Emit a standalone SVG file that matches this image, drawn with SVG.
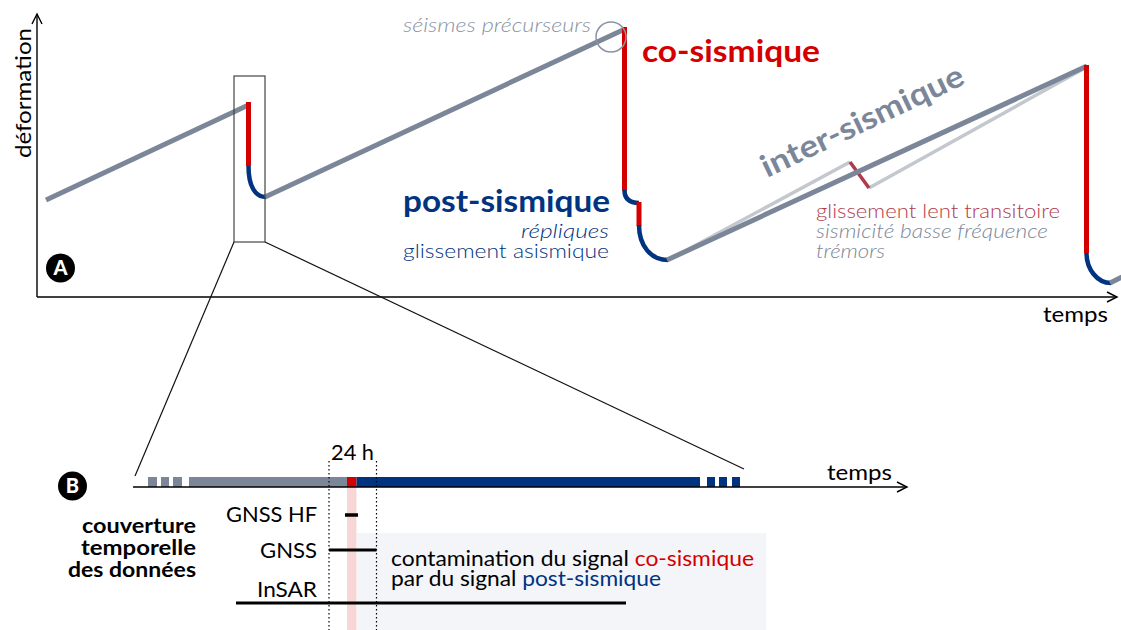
<svg xmlns="http://www.w3.org/2000/svg" width="1121" height="630" viewBox="0 0 1121 630">
<style>
text{font-family:"Lato","Noto Sans","Liberation Sans",sans-serif;}
.gray{fill:none;stroke:#7b8799;stroke-width:5;}
.lgray{fill:none;stroke:#c3c8cf;stroke-width:3.5;}
.red{fill:none;stroke:#d40000;stroke-width:5;}
.blue{fill:none;stroke:#003380;stroke-width:4.5;}
.axis{fill:none;stroke:#000;stroke-width:1.4;}
.thin{fill:none;stroke:#111;stroke-width:1.2;}
.dot{fill:none;stroke:#000;stroke-width:1.2;stroke-dasharray:1.5 2.5;}
.lbl{font-size:21px;fill:#000;}
.big{font-size:31px;font-weight:700;}
.it{font-style:italic;font-weight:300;}
.lt{font-weight:300;}
.bar{stroke:none;}
</style>
<defs>
<marker id="arr" markerUnits="userSpaceOnUse" markerWidth="14" markerHeight="14" refX="11" refY="6" orient="auto" viewBox="0 0 14 12">
<path d="M1,1 L11,6 L1,11" fill="none" stroke="#000" stroke-width="1.4"/>
</marker>
</defs>

<!-- Panel A axes -->
<g id="axes-a">
<path class="axis" d="M37,297 V14" marker-end="url(#arr)"/>
<path class="axis" d="M37,297 H1117" marker-end="url(#arr)"/>
<text class="lbl" font-size="22" transform="translate(31,158) rotate(-90)" textLength="130" lengthAdjust="spacingAndGlyphs">déformation</text>
<text class="lbl" x="1043" y="322" font-size="22" textLength="65" lengthAdjust="spacingAndGlyphs">temps</text>
</g>

<g id="label-a">
<circle cx="60.5" cy="268" r="14.5" fill="#000"/>
<text x="60.5" y="275" text-anchor="middle" font-size="20" font-weight="900" fill="#fff">A</text>
</g>

<!-- seismic cycle curve -->
<g id="curve">
<path class="lgray" d="M672,258 L850,162"/>
<path class="lgray" d="M869,188 L1085,68"/>
<path d="M850,162 L869,188" fill="none" stroke="#b03a4a" stroke-width="3.5"/>
<path class="gray" d="M46,200 L248.5,105"/>
<path class="red" d="M248.5,102 V166"/>
<path class="blue" d="M248.5,166 C248.5,186 255,197 266,197"/>
<path class="gray" d="M265,197 L625,29"/>
<path class="red" d="M624.5,27 V191"/>
<path class="blue" d="M624.5,190 Q624.5,203 639,203"/>
<path class="red" d="M639,202 V226"/>
<path class="blue" d="M639,225 C639,246 651,260 668,260"/>
<path class="gray" d="M667,260 L1087,66"/>
<path class="red" d="M1086.5,65 V253"/>
<path class="blue" d="M1086.5,253 C1086.5,269 1097,283 1111,283"/>
<path class="gray" d="M1110,283 L1122,277"/>
<circle cx="611" cy="37" r="15" fill="none" stroke="#8a93a3" stroke-width="1.5"/>
</g>

<g id="labels-a">
<text class="it" x="403" y="32" font-size="20" fill="#8a93a3" textLength="188" lengthAdjust="spacingAndGlyphs">séismes précurseurs</text>
<text class="big" x="642" y="62" fill="#d40000" textLength="178" lengthAdjust="spacingAndGlyphs">co-sismique</text>
<text class="big" x="403" y="212" fill="#003380" textLength="207" lengthAdjust="spacingAndGlyphs">post-sismique</text>
<text class="it" x="521" y="238" font-size="20" fill="#003380" textLength="88" lengthAdjust="spacingAndGlyphs">répliques</text>
<text class="lt" x="403" y="258" font-size="20" fill="#003380" textLength="206" lengthAdjust="spacingAndGlyphs">glissement asismique</text>
<text class="big" fill="#7b8799" transform="translate(767,178) rotate(-25.4)" textLength="221" lengthAdjust="spacingAndGlyphs">inter-sismique</text>
<text class="lt" x="816" y="218" font-size="20" fill="#b03a4a" textLength="244" lengthAdjust="spacingAndGlyphs">glissement lent transitoire</text>
<text class="it" x="816" y="238" font-size="20" fill="#7b8799" textLength="232" lengthAdjust="spacingAndGlyphs">sismicité basse fréquence</text>
<text class="it" x="816" y="258" font-size="20" fill="#7b8799" textLength="69" lengthAdjust="spacingAndGlyphs">trémors</text>
</g>

<!-- zoom box and connectors -->
<g id="zoom">
<rect x="234" y="76" width="31" height="166" fill="none" stroke="#444" stroke-width="1.2"/>
<path class="thin" d="M234,242 L135,476"/>
<path class="thin" d="M265,242 L744,469"/>
</g>

<!-- Panel B -->
<g id="panel-b-bg">
<rect x="357" y="533" width="409" height="97" fill="#f3f5f9"/>
<rect x="347" y="487" width="9.5" height="143" fill="#d40000" fill-opacity="0.16"/>
</g>

<g id="label-b">
<circle cx="72.5" cy="486" r="14.5" fill="#000"/>
<text x="72.5" y="493" text-anchor="middle" font-size="20" font-weight="900" fill="#fff">B</text>
</g>

<g id="timeline">
<rect class="bar" x="148" y="477" width="9" height="10" fill="#7b8799"/>
<rect class="bar" x="161" y="477" width="8" height="10" fill="#7b8799"/>
<rect class="bar" x="173" y="477" width="9" height="10" fill="#7b8799"/>
<rect class="bar" x="189" y="477" width="158" height="10" fill="#7b8799"/>
<rect class="bar" x="347" y="477" width="9.5" height="10" fill="#d40000"/>
<rect class="bar" x="356.5" y="477" width="343.5" height="10" fill="#003380"/>
<rect class="bar" x="707" y="477" width="8" height="10" fill="#003380"/>
<rect class="bar" x="719" y="477" width="8" height="10" fill="#003380"/>
<rect class="bar" x="732" y="477" width="8" height="10" fill="#003380"/>
<path class="axis" d="M133,487 H907" marker-end="url(#arr)"/>
<text class="lbl" x="827" y="480" font-size="22" textLength="65" lengthAdjust="spacingAndGlyphs">temps</text>
<path class="dot" d="M329,461 V630"/>
<path class="dot" d="M376.5,461 V630"/>
<text class="lbl" x="331" y="460" font-size="22" textLength="43" lengthAdjust="spacingAndGlyphs">24 h</text>
</g>

<g id="coverage">
<text x="196" y="533" font-size="20" font-weight="700" text-anchor="end" fill="#000" textLength="114" lengthAdjust="spacingAndGlyphs">couverture</text>
<text x="196" y="555" font-size="20" font-weight="700" text-anchor="end" fill="#000" textLength="115" lengthAdjust="spacingAndGlyphs">temporelle</text>
<text x="196" y="577" font-size="20" font-weight="700" text-anchor="end" fill="#000" textLength="128" lengthAdjust="spacingAndGlyphs">des données</text>
<text class="lbl" x="317" y="522" font-size="22" text-anchor="end" textLength="91" lengthAdjust="spacingAndGlyphs">GNSS HF</text>
<text class="lbl" x="317" y="558" font-size="22" text-anchor="end" textLength="57" lengthAdjust="spacingAndGlyphs">GNSS</text>
<text class="lbl" x="317" y="597" font-size="22" text-anchor="end" textLength="60" lengthAdjust="spacingAndGlyphs">InSAR</text>
<path d="M345,515 H358" stroke="#000" stroke-width="3.5"/>
<path d="M329,550 H376.5" stroke="#000" stroke-width="3"/>
<path d="M236,603 H626" stroke="#000" stroke-width="3"/>
<text class="lbl" x="391" y="566" font-size="20" textLength="363" lengthAdjust="spacingAndGlyphs">contamination du signal <tspan fill="#d40000">co-sismique</tspan></text>
<text class="lbl" x="391" y="586" font-size="20" textLength="270" lengthAdjust="spacingAndGlyphs">par du signal <tspan fill="#003380">post-sismique</tspan></text>
</g>
</svg>
